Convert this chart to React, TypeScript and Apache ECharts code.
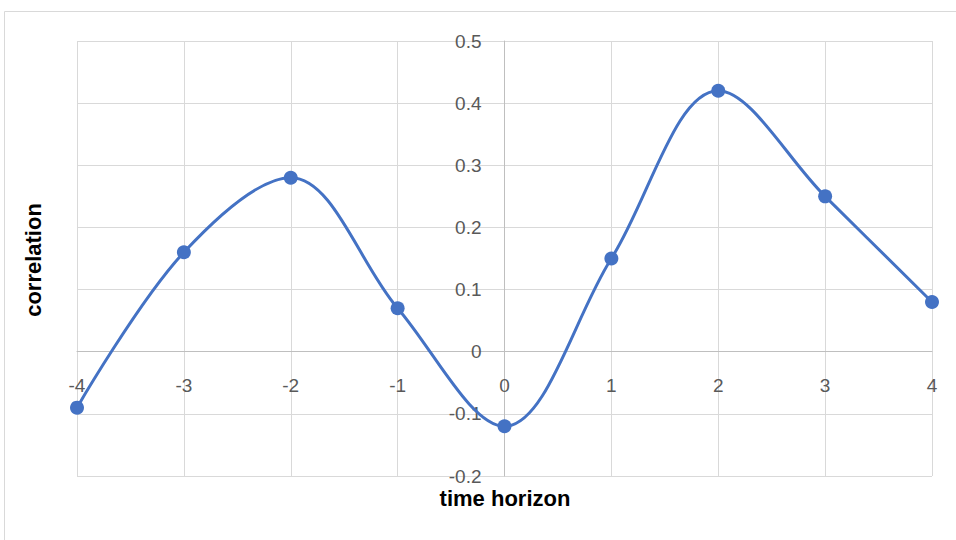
import React, { useEffect, useRef } from "react";
import * as echarts from "echarts";

const horizons = [-4, -3, -2, -1, 0, 1, 2, 3, 4];
const correlations = [-0.09, 0.16, 0.28, 0.07, -0.12, 0.15, 0.42, 0.25, 0.08];
const xTitle = "time horizon";
const yTitle = "correlation";

const FONT = "'Liberation Sans', Arial, sans-serif";

const W = 956;
const H = 540;
const GL = 77, GR = 24, GT = 41, GB = 64;
const X_MIN = -4, X_MAX = 4, Y_MIN = -0.2, Y_MAX = 0.5;

export default function App() {
  const ref = useRef<HTMLDivElement>(null);
  useEffect(() => {
    if (!ref.current) return;
    const chart = echarts.init(ref.current, undefined, { renderer: "svg" });
    const gw = W - GL - GR;
    const gh = H - GT - GB;
    const yAxisOffset = -((0 - X_MIN) / (X_MAX - X_MIN)) * gw;
    const xAxisOffset = -((0 - Y_MIN) / (Y_MAX - Y_MIN)) * gh;
    chart.setOption({
      animation: false,
      backgroundColor: "#ffffff",
      grid: { left: GL, right: GR, top: GT, bottom: GB },
      xAxis: {
        type: "value",
        min: X_MIN,
        max: X_MAX,
        interval: 1,
        position: "bottom",
        offset: xAxisOffset,
        axisLine: { onZero: false, lineStyle: { color: "#bfbfbf", width: 1 } },
        axisTick: { show: false },
        axisLabel: { color: "#595959", fontSize: 19, fontFamily: FONT, margin: 24 },
        splitLine: { show: true, lineStyle: { color: "#d9d9d9", width: 1 } },
      },
      yAxis: {
        type: "value",
        min: Y_MIN,
        max: Y_MAX,
        interval: 0.1,
        position: "left",
        offset: yAxisOffset,
        axisLine: { show: true, onZero: false, lineStyle: { color: "#bfbfbf", width: 1 } },
        axisTick: { show: false },
        axisLabel: {
          color: "#595959",
          fontSize: 19,
          fontFamily: FONT,
          margin: 23,
          formatter: (v: number) => String(Math.round(v * 10) / 10),
        },
        splitLine: { show: true, lineStyle: { color: "#d9d9d9", width: 1 } },
      },
      graphic: [
        {
          type: "rect",
          x: 4.5,
          y: 11.5,
          shape: { width: 1000, height: 600 },
          style: { fill: "none", stroke: "#d9d9d9", lineWidth: 1 },
          silent: true,
          z: -10,
        },
        {
          type: "text",
          x: 505,
          y: 498,
          style: {
            text: xTitle,
            font: `bold 22px ${FONT}`,
            fill: "#000000",
            textAlign: "center",
            textVerticalAlign: "middle",
          },
        },
        {
          type: "text",
          x: 33,
          y: 260,
          rotation: Math.PI / 2,
          style: {
            text: yTitle,
            font: `bold 22px ${FONT}`,
            fill: "#000000",
            textAlign: "center",
            textVerticalAlign: "middle",
          },
        },
      ],
      series: [
        {
          type: "line",
          data: horizons.map((h, i) => [h, correlations[i]]),
          smooth: 0.35,
          symbol: "circle",
          symbolSize: 14,
          lineStyle: { color: "#4472c4", width: 3 },
          itemStyle: { color: "#4472c4" },
          z: 5,
        },
      ],
    });
    return () => chart.dispose();
  }, []);
  return <div ref={ref} style={{ width: W, height: H, position: "absolute", left: 0, top: 0 }} />;
}
